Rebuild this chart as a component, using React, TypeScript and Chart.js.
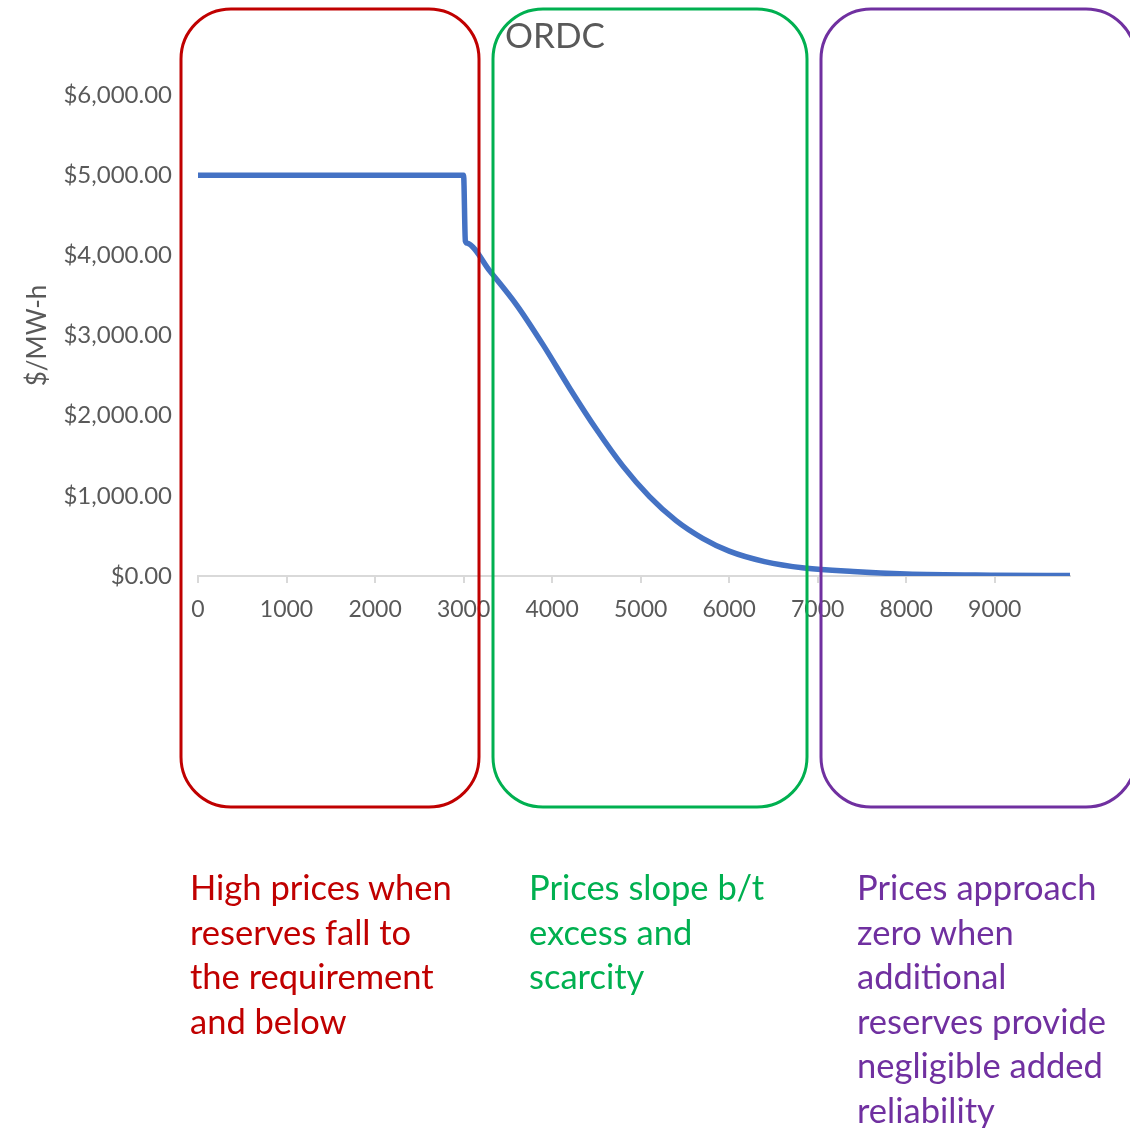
import React, { useEffect, useRef } from "react";
import { Chart, registerables } from "chart.js";

Chart.register(...registerables);

// Data
const reserveMW = [0, 3000, 3020, 3040, 3300, 3600, 3900, 4200, 4500, 4800, 5100, 5400, 5700, 6000, 6400, 6850, 7400, 8000, 9000, 9850];
const priceUSD = [5000, 5000, 4180, 4153, 3800, 3380, 2880, 2340, 1830, 1370, 990, 690, 470, 310, 180, 100, 55, 25, 10, 5];
const xTickValues = [0, 1000, 2000, 3000, 4000, 5000, 6000, 7000, 8000, 9000];
const chartTitle = "ORDC";
const yAxisTitle = "$/MW-h";
const redNote = ["High prices when", "reserves fall to", "the requirement", "and below"];
const greenNote = ["Prices slope b/t", "excess and", "scarcity"];
const purpleNote = ["Prices approach", "zero when", "additional", "reserves provide", "negligible added", "reliability"];

const W = 1130;
const H = 1128;
const FONT = "Lato, 'Noto Sans', sans-serif";

const boxes = [
  { x1: 181, y1: 9, x2: 479, y2: 807, color: "#C00000" },
  { x1: 493, y1: 9, x2: 807, y2: 807, color: "#00B050" },
  { x1: 821, y1: 9, x2: 1136, y2: 807, color: "#7030A0" },
];

const boxPlugin = {
  id: "roundBoxes",
  afterDraw(chart: any) {
    const ctx = chart.ctx;
    ctx.save();
    ctx.lineWidth = 3;
    for (const b of boxes) {
      const r = 50;
      ctx.strokeStyle = b.color;
      ctx.beginPath();
      ctx.moveTo(b.x1 + r, b.y1);
      ctx.lineTo(b.x2 - r, b.y1);
      ctx.arcTo(b.x2, b.y1, b.x2, b.y1 + r, r);
      ctx.lineTo(b.x2, b.y2 - r);
      ctx.arcTo(b.x2, b.y2, b.x2 - r, b.y2, r);
      ctx.lineTo(b.x1 + r, b.y2);
      ctx.arcTo(b.x1, b.y2, b.x1, b.y2 - r, r);
      ctx.lineTo(b.x1, b.y1 + r);
      ctx.arcTo(b.x1, b.y1, b.x1 + r, b.y1, r);
      ctx.closePath();
      ctx.stroke();
    }
    ctx.restore();
  },
};

export default function App() {
  const ref = useRef<HTMLCanvasElement | null>(null);

  useEffect(() => {
    if (!ref.current) return;
    const points = reserveMW.map((x, i) => ({ x, y: priceUSD[i] }));
    const chart = new Chart(ref.current, {
      type: "line",
      data: {
        datasets: [
          {
            data: points,
            borderColor: "#4472C4",
            borderWidth: 5.5,
            pointRadius: 0,
            cubicInterpolationMode: "monotone",
            borderCapStyle: "round",
            borderJoinStyle: "round",
            fill: false,
          },
        ],
      },
      options: {
        animation: false,
        responsive: false,
        maintainAspectRatio: false,
        events: [],
        layout: {
          autoPadding: false,
          padding: { left: 0, right: 60, top: 95, bottom: H - 576 - 60 },
        },
        plugins: {
          legend: { display: false },
          tooltip: { enabled: false },
          title: { display: false },
        },
        scales: {
          x: {
            type: "linear",
            min: 0,
            max: 9850,
            afterBuildTicks: (scale: any) => {
              scale.ticks = xTickValues.map((v) => ({ value: v }));
            },
            afterFit: (scale: any) => {
              scale.height = 60;
            },
            border: { display: true, color: "#D9D9D9", width: 2 },
            grid: {
              display: true,
              drawOnChartArea: false,
              drawTicks: true,
              tickLength: 7,
              color: "#D9D9D9",
              lineWidth: 2,
            },
            ticks: {
              autoSkip: false,
              maxRotation: 0,
              padding: 13,
              color: "#595959",
              font: { family: FONT, size: 23 },
              callback: (v: any) => String(v),
            },
          },
          y: {
            min: 0,
            max: 6000,
            afterFit: (scale: any) => {
              scale.width = 198;
            },
            border: { display: false },
            grid: { display: false, drawTicks: false, tickLength: 0 },
            ticks: {
              stepSize: 1000,
              padding: 26,
              color: "#595959",
              font: { family: FONT, size: 24 },
              callback: (v: any) =>
                "$" + Number(v).toLocaleString("en-US", { minimumFractionDigits: 2, maximumFractionDigits: 2 }),
            },
            title: {
              display: true,
              text: yAxisTitle,
              color: "#595959",
              font: { family: FONT, size: 26 },
              padding: { top: 22, bottom: 0 },
            },
          },
        },
      },
      plugins: [boxPlugin],
    } as any);
    return () => chart.destroy();
  }, []);

  const noteStyle = (left: number, color: string): React.CSSProperties => ({
    position: "absolute",
    left,
    top: 865,
    color,
    fontFamily: FONT,
    fontSize: 34.5,
    lineHeight: "44.5px",
    whiteSpace: "nowrap",
  });

  return (
    <div style={{ position: "absolute", left: 0, top: 0, width: W, height: H, overflow: "hidden", background: "#fff" }}>
      <canvas ref={ref} width={W} height={H} style={{ position: "absolute", left: 0, top: 0, width: W, height: H }} />
      <div
        style={{
          position: "absolute",
          left: 505,
          top: 14,
          color: "#595959",
          fontFamily: FONT,
          fontSize: 35,
          lineHeight: "40px",
          whiteSpace: "nowrap",
        }}
      >
        {chartTitle}
      </div>
      <div style={noteStyle(190, "#C00000")}>
        {redNote.map((l, i) => (
          <div key={i}>{l}</div>
        ))}
      </div>
      <div style={noteStyle(529, "#00B050")}>
        {greenNote.map((l, i) => (
          <div key={i}>{l}</div>
        ))}
      </div>
      <div style={noteStyle(857, "#7030A0")}>
        {purpleNote.map((l, i) => (
          <div key={i}>{l}</div>
        ))}
      </div>
    </div>
  );
}
